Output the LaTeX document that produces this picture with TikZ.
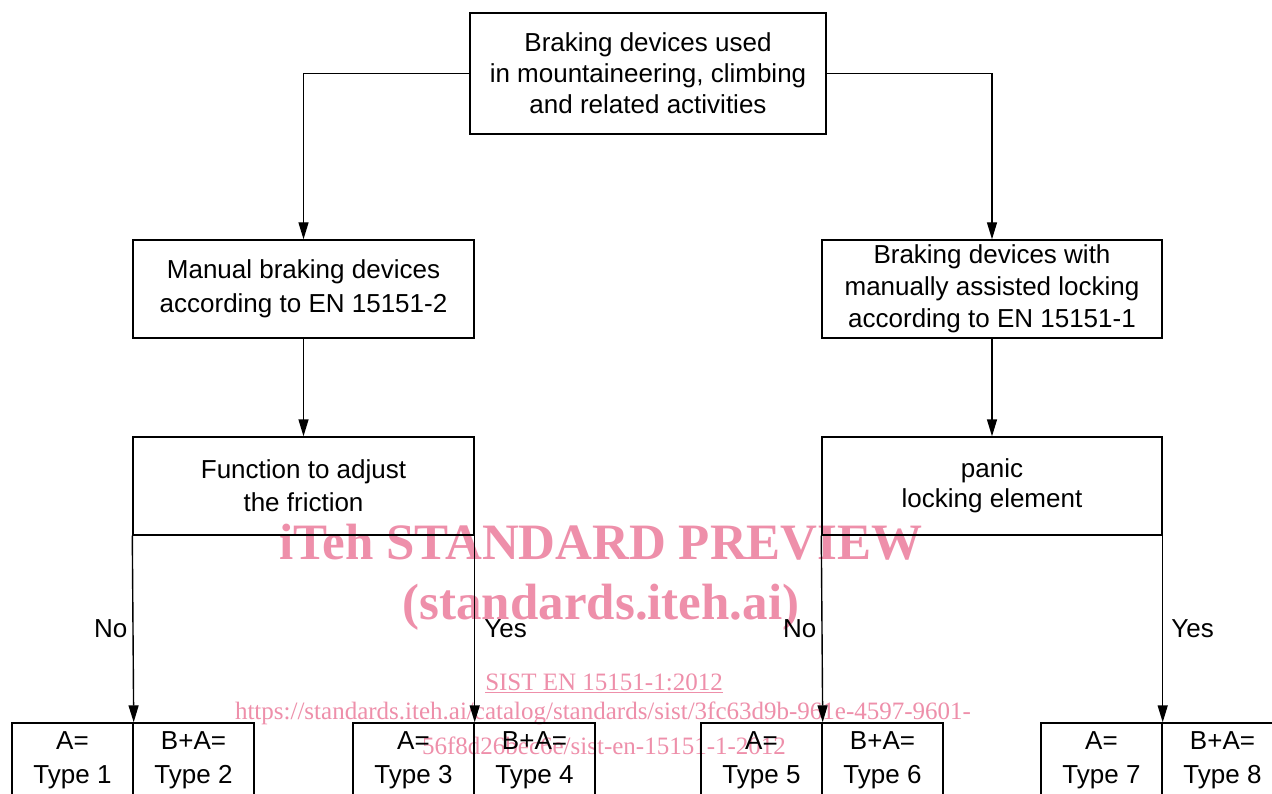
\documentclass[tikz,border=0pt]{standalone}
\usepackage{fontspec}
\setmainfont{Liberation Sans}
\newfontfamily\wmfont{Liberation Serif}
\usetikzlibrary{arrows.meta}
\definecolor{wmpink}{RGB}{238,143,170}
\tikzset{
  box/.style={draw, line width=1.4pt, inner sep=0pt, align=center, font=\fontsize{26}{32}\selectfont},
  cell/.style={box, minimum width=121pt, minimum height=74pt, font=\fontsize{26}{34}\selectfont},
  conn/.style={line width=1.4pt, -{Triangle[length=17pt,width=10pt]}},
  lab/.style={font=\fontsize{26}{30}\selectfont, inner sep=0pt},
  wmtext/.style={text=wmpink, inner sep=0pt, font=\wmfont}
}
\begin{document}
\begin{tikzpicture}[x=1pt,y=-1pt]
\useasboundingbox (0,0) rectangle (1272,794);
\clip (0,0) rectangle (1272,794);
\fill[white] (0,0) rectangle (1272,794);

% watermark
\node[wmtext, font=\wmfont\bfseries\fontsize{51}{51}\selectfont] (wm1) at (601,542) {iTeh STANDARD PREVIEW};
\node[wmtext, font=\wmfont\bfseries\fontsize{51}{51}\selectfont] (wm2) at (601,607) {(standards.iteh.ai)};
\node[wmtext, font=\wmfont\fontsize{25}{25}\selectfont] (wm3) at (604,683) {\underline{SIST EN 15151-1:2012}};
\node[wmtext, font=\wmfont\fontsize{25}{25}\selectfont] (wm4) at (603,713) {https://standards.iteh.ai/catalog/standards/sist/3fc63d9b-961e-4597-9601-};
\node[wmtext, font=\wmfont\fontsize{25}{25}\selectfont] (wm5) at (604,746) {56f8d26bec6e/sist-en-15151-1-2012};

% boxes
\node[box, minimum width=356pt, minimum height=121pt, font=\fontsize{26}{31}\selectfont] (top) at (648,73.5)
  {Braking devices used\\in mountaineering, climbing\\and related activities};
\node[box, minimum width=341pt, minimum height=98pt, font=\fontsize{26}{34}\selectfont] (L2) at (303.5,289)
  {Manual braking devices\\according to EN 15151-2};
\node[box, minimum width=340pt, minimum height=98pt, font=\fontsize{26}{32}\selectfont] (R2) at (992,289)
  {Braking devices with\\manually assisted locking\\according to EN 15151-1};
\node[box, minimum width=341pt, minimum height=98pt, font=\fontsize{26}{33}\selectfont] (L3) at (303.5,486)
  {Function to adjust\\the friction};
\node[box, minimum width=340pt, minimum height=98pt, font=\fontsize{26}{30}\selectfont] (R3) at (992,486)
  {panic\\locking element};

% result cells
\node[cell] (c1) at (72.5,760) {A=\\Type 1};
\node[cell] (c2) at (193.5,760) {B+A=\\Type 2};
\node[cell] (c3) at (413.5,760) {A=\\Type 3};
\node[cell] (c4) at (534.5,760) {B+A=\\Type 4};
\node[cell] (c5) at (761.5,760) {A=\\Type 5};
\node[cell] (c6) at (882.5,760) {B+A=\\Type 6};
\node[cell] (c7) at (1101.5,760) {A=\\Type 7};
\node[cell] (c8) at (1222.5,760) {B+A=\\Type 8};

% connectors
\draw[conn] (top.west) -| (L2.north);
\draw[conn] (top.east) -| (R2.north);
\draw[conn] (L2.south) -- (L3.north);
\draw[conn] (R2.south) -- (R3.north);
\draw[conn] (L3.south west) -- node[lab, left=5pt] {No} (c1.north east);
\draw[conn] (L3.south east) -- node[lab, right=9pt] {Yes} (c3.north east);
\draw[conn] (R3.south west) -- node[lab, left=5pt] {No} (c5.north east);
\draw[conn] (R3.south east) -- node[lab, right=8pt] {Yes} (c7.north east);
\end{tikzpicture}
\end{document}
